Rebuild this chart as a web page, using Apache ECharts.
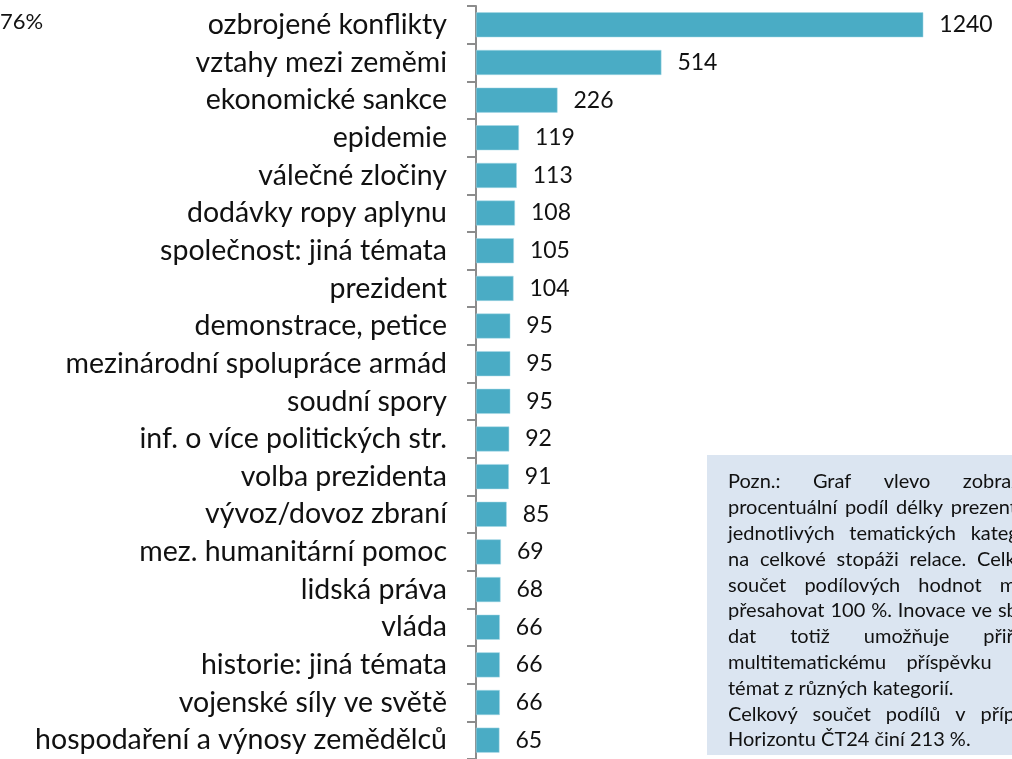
<!DOCTYPE html>
<html>
<head>
<meta charset="utf-8">
<script src="https://cdn.jsdelivr.net/npm/echarts@6/dist/echarts.min.js"></script>
<style>
  html, body { margin: 0; padding: 0; background: #fff; }
  #chart { width: 1012px; height: 759px; }
</style>
</head>
<body>
<div id="chart"></div>
<script>
const categories = [
  'ozbrojené konflikty',
  'vztahy mezi zeměmi',
  'ekonomické sankce',
  'epidemie',
  'válečné zločiny',
  'dodávky ropy aplynu',
  'společnost: jiná témata',
  'prezident',
  'demonstrace, petice',
  'mezinárodní spolupráce armád',
  'soudní spory',
  'inf. o více politických str.',
  'volba prezidenta',
  'vývoz/dovoz zbraní',
  'mez. humanitární pomoc',
  'lidská práva',
  'vláda',
  'historie: jiná témata',
  'vojenské síly ve světě',
  'hospodaření a výnosy zemědělců'
]
const values = [1240, 514, 226, 119, 113, 108, 105, 104, 95, 95, 95, 92, 91, 85, 69, 68, 66, 66, 66, 65]

// note box text, line by line (true = justified line)
const noteLines = [
  ['Pozn.: Graf vlevo zobrazuje', true],
  ['procentuální podíl délky prezentace', true],
  ['jednotlivých tematických kategorií', true],
  ['na celkové stopáži relace. Celkový', true],
  ['součet podílových hodnot může', true],
  ['přesahovat 100 %. Inovace ve sběru', true],
  ['dat totiž umožňuje přiřadit', true],
  ['multitematickému příspěvku více', true],
  ['témat z různých kategorií.', false],
  ['Celkový součet podílů v případě', true],
  ['Horizontu ČT24 činí 213 %.', false]
]
const cornerText = '76%'

const FONT = 'Lato, "Open Sans", sans-serif'
const noteFontSize = 20
const noteLeft = 728
const noteTop = 482
const noteLineH = 25.8

function buildNote() {
  const ctx = document.createElement('canvas').getContext('2d')
  ctx.font = noteFontSize + 'px ' + FONT
  let width = 0
  noteLines.forEach(function(l) {
    if (l[1]) width = Math.max(width, ctx.measureText(l[0]).width)
  })
  width += 4
  const items = []
  noteLines.forEach(function(l, i) {
    const y = noteTop + i * noteLineH
    const words = l[0].split(' ')
    let gap = ctx.measureText(' ').width
    if (l[1] && words.length > 1) {
      const used = words.reduce(function(s, w) { return s + ctx.measureText(w).width }, 0)
      gap = (width - used) / (words.length - 1)
    }
    let x = noteLeft
    words.forEach(function(w) {
      items.push({
        type: 'text',
        z: 20,
        style: {
          x: x,
          y: y,
          text: w,
          fill: '#111',
          font: noteFontSize + 'px ' + FONT,
          verticalAlign: 'middle'
        }
      })
      x += ctx.measureText(w).width + gap
    })
  })
  return items
}

const chart = echarts.init(document.getElementById('chart'))
const option = {
  animation: false,
  grid: {
    left: 476,
    right: 31,
    top: 6,
    bottom: -7
  },
  xAxis: {
    type: 'value',
    min: 0,
    max: 1400,
    show: false
  },
  yAxis: {
    type: 'category',
    data: categories,
    inverse: true,
    axisLine: { show: true, lineStyle: { color: '#8c8c8c', width: 2 }},
    axisTick: { show: true, interval: 0, length: 9, lineStyle: { color: '#8c8c8c', width: 2 }},
    axisLabel: {
      interval: 0,
      margin: 29,
      fontSize: 28.5,
      fontFamily: FONT,
      color: '#111'
    }
  },
  series: [
    {
      type: 'bar',
      data: values,
      barWidth: 25,
      itemStyle: {
        color: '#4aacc5',
        borderColor: '#a8d8e6',
        borderWidth: 0.5
      },
      label: {
        show: true,
        position: 'right',
        distance: 16,
        fontSize: 23,
        fontFamily: FONT,
        color: '#111'
      }
    }
  ],
  graphic: [
    {
      type: 'text',
      left: 0,
      top: 11,
      style: { text: cornerText, font: '22px ' + FONT, fill: '#111' }
    },
    {
      type: 'rect',
      z: 10,
      shape: { x: 707, y: 455, width: 400, height: 300 },
      style: { fill: '#dbe5f1' }
    }
  ].concat(buildNote())
}
chart.setOption(option, true)
window.onresize = () => {
  chart.resize()
}
</script>
</body>
</html>
